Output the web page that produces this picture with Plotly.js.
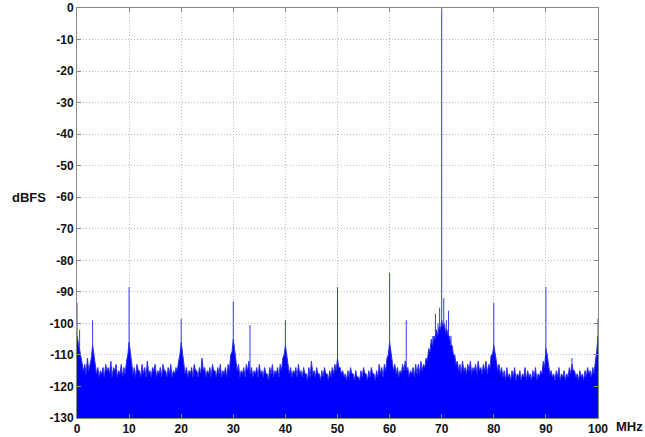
<!DOCTYPE html>
<html>
<head>
<meta charset="utf-8">
<script src="https://cdn.plot.ly/plotly-3.0.1.min.js"></script>
<style>html,body{margin:0;padding:0;background:#fff;}#chart{width:645px;height:437px;}</style>
</head>
<body>
<div id="chart"></div>
<script>
// Noise floor envelope (dBFS), read every 0.5 MHz from 0 to 100 MHz
const floorStepMHz = 0.5;
const floorDBFS = [
  -104,-109,-112,-113,-111,-113,-107,-113,-114,-115,-114,-113,-114,-112,-114,-113,-115,-113,-114,-112,
  -106,-112,-114,-113,-115,-113,-114,-112,-115,-114,-113,-115,-114,-113,-115,-114,-113,-115,-114,-112,
  -106,-112,-114,-115,-114,-113,-115,-114,-111,-114,-115,-114,-113,-115,-114,-113,-115,-114,-113,-110,
  -105,-111,-113,-115,-114,-113,-112,-114,-115,-114,-113,-115,-114,-116,-114,-113,-115,-114,-113,-111,
  -107,-112,-114,-115,-114,-113,-115,-114,-116,-114,-112,-115,-114,-116,-115,-114,-116,-115,-114,-113,
  -111,-114,-115,-116,-115,-114,-116,-115,-117,-115,-114,-116,-115,-114,-116,-115,-113,-114,-113,-111,
  -106,-111,-113,-114,-115,-113,-112,-114,-115,-114,-113,-113,-112,-113,-111,-108,-105,-104,-102,-101,
  -99,-100,-102,-104,-107,-110,-112,-113,-112,-114,-113,-112,-114,-113,-112,-114,-113,-112,-113,-110,
  -107,-112,-113,-114,-115,-114,-116,-115,-114,-116,-115,-116,-114,-115,-116,-115,-114,-116,-115,-112,
  -108,-113,-115,-116,-115,-114,-116,-115,-116,-114,-113,-115,-116,-115,-116,-115,-114,-115,-114,-112,
  -104
];
// Noise floor dips (dBFS) read midway between those points: 0.25, 0.75, ... 99.75 MHz
const floorMidDBFS = [
  -106,-111,-115,-116,-115,-111,-110,-116,-117,-116,-117,-115,-116,-117,-115,-117,-116,-117,-116,-110,
  -109,-116,-117,-115,-117,-116,-117,-116,-117,-115,-117,-116,-117,-115,-117,-116,-117,-116,-115,-110,
  -109,-116,-117,-116,-117,-115,-117,-116,-115,-117,-116,-117,-115,-117,-116,-117,-116,-117,-115,-109,
  -108,-115,-117,-116,-117,-115,-116,-117,-116,-117,-116,-117,-116,-118,-116,-117,-116,-117,-115,-110,
  -110,-116,-117,-116,-117,-116,-117,-116,-118,-117,-116,-117,-116,-118,-117,-116,-118,-117,-116,-115,
  -114,-116,-117,-118,-117,-116,-118,-117,-118,-117,-116,-118,-117,-116,-118,-117,-116,-117,-115,-110,
  -109,-115,-116,-117,-116,-115,-115,-117,-116,-117,-116,-116,-115,-114,-112,-109,-107,-105,-104,-102,
  -101,-103,-104,-107,-110,-113,-115,-116,-115,-116,-115,-116,-115,-116,-115,-116,-115,-116,-114,-110,
  -109,-115,-116,-117,-118,-117,-118,-117,-118,-117,-118,-117,-118,-117,-118,-117,-118,-117,-116,-114,
  -110,-116,-117,-118,-117,-118,-117,-118,-117,-116,-115,-117,-118,-117,-118,-117,-116,-117,-116,-109
];

// Discrete spurs / tones
const spurMHz  = [0, 0.5, 3, 10, 20, 30, 33.2, 40, 50, 60, 63.2, 67.5, 68.3, 68.8, 69.3, 69.6, 70, 70.4, 70.9, 71.3, 71.8, 80, 90, 95, 100];
const spurDBFS = [-93.5, -102, -99, -88.5, -98.5, -93, -100.5, -99, -88.5, -84, -99, -109, -104, -97, -100, -95, 0, -92, -99, -96, -104, -93.5, -88.5, -111, -98.5];

const xTicks = [0,10,20,30,40,50,60,70,80,90,100];
const yTicks = [0,-10,-20,-30,-40,-50,-60,-70,-80,-90,-100,-110,-120,-130];
const yMin = -130, yMax = 0;

// interleave envelope points and the dips between them
const floorX = [], floorY = [];
floorDBFS.forEach((v, i) => {
  floorX.push(i * floorStepMHz); floorY.push(v);
  if (i < floorMidDBFS.length) { floorX.push(i * floorStepMHz + floorStepMHz / 2); floorY.push(floorMidDBFS[i]); }
});

const spurX = [], spurY = [];
spurMHz.forEach((f, i) => { spurX.push(f, f, null); spurY.push(yMin, spurDBFS[i], null); });

const traces = [
  { x: spurX, y: spurY, mode: 'lines', line: {color: '#3a3ae6', width: 1}, showlegend: false },
  { x: [0, 100], y: [yMin, yMin], mode: 'lines', line: {width: 0, color: '#0000ff'}, hoverinfo: 'skip', showlegend: false },
  { x: floorX, y: floorY, mode: 'lines', fill: 'tonexty', fillcolor: '#0000ff',
    line: {color: '#2f2ff0', width: 1}, showlegend: false }
];

const tickFont = {family: 'Liberation Sans, Arial, sans-serif', size: 12, color: '#111', weight: 'bold'};

const layout = {
  width: 645, height: 437,
  margin: {l: 77, r: 47, t: 8, b: 19, pad: 0},
  paper_bgcolor: '#fff', plot_bgcolor: '#fff',
  showlegend: false,
  xaxis: {
    range: [0, 100], tickvals: xTicks, ticktext: xTicks.map(String),
    showgrid: true, gridcolor: '#b8b8b8', griddash: '1px,2px', gridwidth: 1,
    zeroline: false, showline: true, linecolor: '#888', linewidth: 1, mirror: 'ticks',
    ticks: 'inside', ticklen: 4, tickcolor: '#888', tickfont: tickFont
  },
  yaxis: {
    range: [yMin, yMax], tickvals: yTicks, ticktext: yTicks.map(String),
    showgrid: true, gridcolor: '#b8b8b8', griddash: '1px,2px', gridwidth: 1,
    zeroline: false, showline: true, linecolor: '#888', linewidth: 1, mirror: 'ticks',
    ticks: 'inside', ticklen: 4, tickcolor: '#888', tickfont: tickFont
  },
  annotations: [
    {text: 'dBFS', xref: 'paper', yref: 'y', x: -0.056, y: -60, xanchor: 'right', yanchor: 'middle',
     showarrow: false, font: {family: 'Liberation Sans, Arial, sans-serif', size: 13, color: '#111', weight: 'bold'}},
    {text: 'MHz', xref: 'paper', yref: 'paper', x: 1.03, y: 0, yshift: -8, xanchor: 'left', yanchor: 'middle',
     showarrow: false, font: {family: 'Liberation Sans, Arial, sans-serif', size: 13, color: '#111', weight: 'bold'}}
  ]
};

Plotly.newPlot('chart', traces, layout, {displayModeBar: false, staticPlot: true});
</script>
</body>
</html>
